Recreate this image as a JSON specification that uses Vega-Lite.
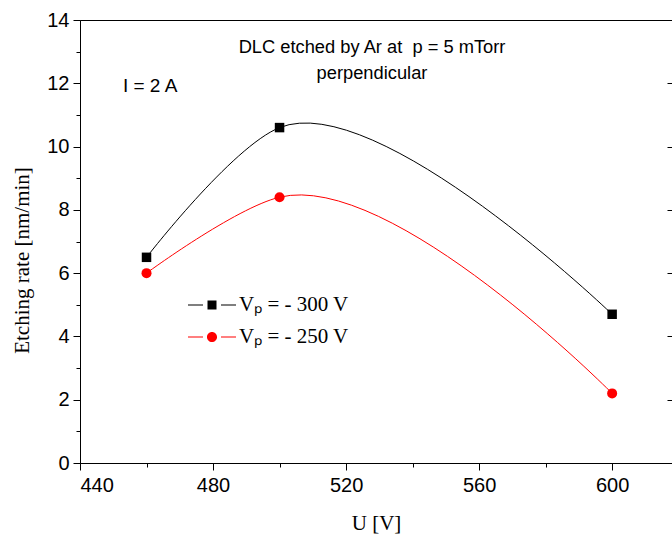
{
  "$schema": "https://vega.github.io/schema/vega-lite/v6.json",
  "width": 592,
  "height": 443,
  "autosize": {"type": "none"},
  "padding": {"left": 80, "top": 20, "right": 0, "bottom": 72},
  "background": "white",
  "config": {
    "view": {"stroke": "#000000", "strokeWidth": 1},
    "font": "Liberation Sans",
    "axis": {
      "domainColor": "#000000", "tickColor": "#000000", "labelColor": "#000000", "titleColor": "#000000",
      "grid": false, "labelFont": "Liberation Sans", "labelFontSize": 20, "tickWidth": 1, "domainWidth": 1
    }
  },
  "datasets": {
    "pts": [
      {"U": 460, "rate": 6.5, "s": "V\u209a = - 300 V"},
      {"U": 500, "rate": 10.6, "s": "V\u209a = - 300 V"},
      {"U": 600, "rate": 4.7, "s": "V\u209a = - 300 V"},
      {"U": 460, "rate": 6.0, "s": "V\u209a = - 250 V"},
      {"U": 500, "rate": 8.4, "s": "V\u209a = - 250 V"},
      {"U": 600, "rate": 2.2, "s": "V\u209a = - 250 V"}
    ]
  },
  "data": {"name": "pts"},
  "resolve": {"axis": {"y": "independent"}},
  "layer": [
    {
      "transform": [{"filter": {"field": "s", "equal": "V\u209a = - 300 V"}}],
      "mark": {"type": "line", "interpolate": "catmull-rom", "tension": 1, "strokeWidth": 1, "color": "#000000"},
      "encoding": {
        "x": {
          "field": "U", "type": "quantitative",
          "scale": {"domain": [440, 618], "nice": false, "zero": false},
          "axis": {
            "values": [440, 460, 480, 500, 520, 540, 560, 580, 600],
            "labelExpr": "datum.value % 40 === 0 ? datum.label : ''",
            "tickSize": {"condition": {"test": "datum.value % 40 === 0", "value": 7}, "value": 4},
            "labelPadding": 5,
            "title": "U [V]", "titleFont": "Liberation Serif", "titleFontSize": 21, "titleFontWeight": "normal",
            "titleBaseline": "alphabetic", "titleY": 66
          }
        },
        "y": {
          "field": "rate", "type": "quantitative",
          "scale": {"domain": [0, 14], "nice": false},
          "axis": {
            "values": [0, 1, 2, 3, 4, 5, 6, 7, 8, 9, 10, 11, 12, 13, 14],
            "labelExpr": "datum.value % 2 === 0 ? datum.label : ''",
            "tickSize": {"condition": {"test": "datum.value % 2 === 0", "value": 7}, "value": 4},
            "labelPadding": 4,
            "title": "Etching rate [nm/min]", "titleFont": "Liberation Serif", "titleFontSize": 21, "titleFontWeight": "normal",
            "titleBaseline": "middle", "titleX": -58, "titleY": 240
          }
        }
      }
    },
    {
      "transform": [{"filter": {"field": "s", "equal": "V\u209a = - 250 V"}}],
      "mark": {"type": "line", "interpolate": "catmull-rom", "tension": 1, "strokeWidth": 1, "color": "#ff0000"},
      "encoding": {
        "x": {"field": "U", "type": "quantitative"},
        "y": {"field": "rate", "type": "quantitative", "axis": null}
      }
    },
    {
      "transform": [{"filter": {"field": "s", "equal": "V\u209a = - 300 V"}}],
      "mark": {"type": "point", "shape": "square", "filled": true, "size": 90, "opacity": 1, "color": "#000000"},
      "encoding": {
        "x": {"field": "U", "type": "quantitative"},
        "y": {"field": "rate", "type": "quantitative", "axis": null}
      }
    },
    {
      "transform": [{"filter": {"field": "s", "equal": "V\u209a = - 250 V"}}],
      "mark": {"type": "point", "shape": "circle", "filled": true, "size": 100, "opacity": 1, "color": "#ff0000"},
      "encoding": {
        "x": {"field": "U", "type": "quantitative"},
        "y": {"field": "rate", "type": "quantitative", "axis": null}
      }
    },
    {
      "data": {"values": [{"t": "DLC etched by Ar at \u00a0p = 5 mTorr\nperpendicular"}]},
      "mark": {"type": "text", "font": "Liberation Sans", "fontSize": 18.3, "align": "center", "baseline": "middle", "lineBreak": "\n", "lineHeight": 26, "color": "#000000"},
      "encoding": {
        "text": {"field": "t"},
        "x": {"datum": 527.8, "type": "quantitative"},
        "y": {"datum": 13.115, "type": "quantitative", "axis": null}
      }
    },
    {
      "data": {"values": [{"t": "I = 2 A"}]},
      "mark": {"type": "text", "font": "Liberation Sans", "fontSize": 19, "align": "left", "baseline": "middle", "color": "#000000"},
      "encoding": {
        "text": {"field": "t"},
        "x": {"datum": 452.9, "type": "quantitative"},
        "y": {"datum": 11.91, "type": "quantitative", "axis": null}
      }
    },
    {
      "transform": [{"filter": "false"}],
      "mark": {"type": "point", "filled": true, "size": 576, "opacity": 1},
      "encoding": {
        "y": {
          "field": "rate", "type": "quantitative",
          "axis": {"orient": "right", "values": [0, 2, 4, 6, 8, 10, 12, 14], "labels": false, "domain": false, "tickSize": -5, "title": null}
        },
        "color": {
          "field": "s", "type": "nominal",
          "scale": {"domain": ["V\u209a = - 300 V", "V\u209a = - 250 V"], "range": ["#000000", "#ff0000"]},
          "legend": {"title": null, "orient": "none", "legendX": 120, "legendY": 273, "symbolSize": 576, "labelFont": "Liberation Serif", "labelFontSize": 21, "labelColor": "#000000", "labelOffset": 15, "rowPadding": 10, "padding": 0, "symbolStrokeWidth": 0}
        },
        "shape": {
          "field": "s", "type": "nominal",
          "scale": {
            "domain": ["V\u209a = - 300 V", "V\u209a = - 250 V"],
            "range": [
              "M-2,-0.045 H-0.75 V0.045 H-2 Z M0.75,-0.045 H2 V0.045 H0.75 Z M-0.375,-0.375 H0.375 V0.375 H-0.375 Z",
              "M-2,-0.045 H-0.75 V0.045 H-2 Z M0.75,-0.045 H2 V0.045 H0.75 Z M-0.42,0 A0.42,0.42 0 1,0 0.42,0 A0.42,0.42 0 1,0 -0.42,0 Z"
            ]
          },
          "legend": {"title": null, "orient": "none", "legendX": 120, "legendY": 273, "symbolSize": 576, "labelFont": "Liberation Serif", "labelFontSize": 21, "labelColor": "#000000", "labelOffset": 15, "rowPadding": 10, "padding": 0, "symbolStrokeWidth": 0}
        }
      }
    }
  ]
}
